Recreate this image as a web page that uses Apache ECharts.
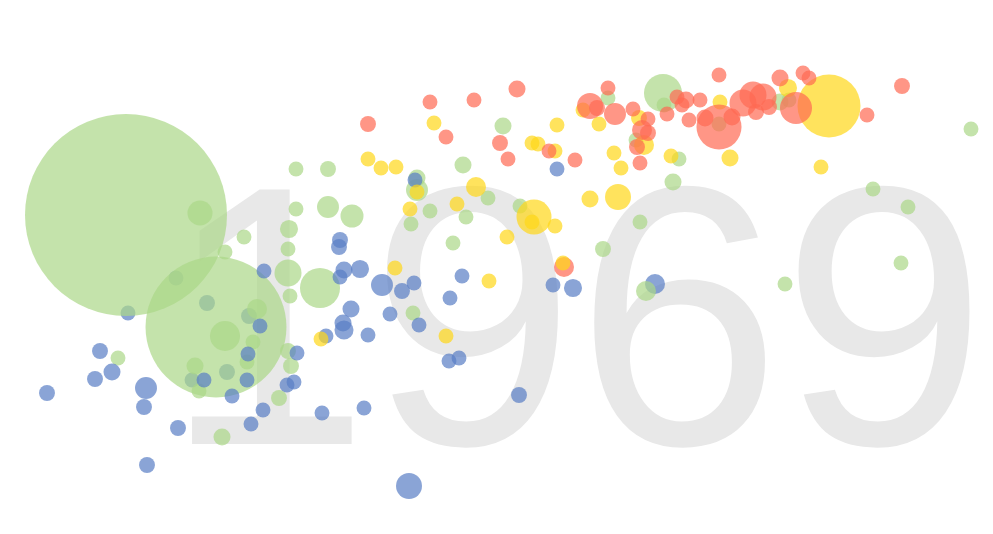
<!DOCTYPE html>
<html>
<head>
<meta charset="utf-8">
<script src="https://cdn.jsdelivr.net/npm/echarts@6/dist/echarts.min.js"></script>
<style>
  html, body { margin: 0; padding: 0; background: #ffffff; }
  #chart { width: 993px; height: 534px; }
</style>
</head>
<body>
<div id="chart"></div>
<script>
// Year shown as the large background label
const year = '1969';
// Region names (index used as the 4th value of each country)
const regions = ['Africa', 'Asia', 'Americas', 'Europe'];
const regionColors = ['#587ec4', '#abd787', '#ffd718', '#ff6952'];

// [income index, life expectancy, population (millions), region]
// listed in drawing order
const countries = [
  [12.8,48.7,4.3,0],[17.6,52.2,4.3,0],[20.7,49.7,4.9,0],[22.7,42.8,4.9,0],[19.2,42.0,4.3,0],[24.9,48.4,4.9,0],[65.5,51.6,7.7,0],
  [12.6,58.5,787,1],[21.6,47.3,383,1],
  [20.0,58.7,12.1,1],[22.5,46.4,17.4,1],[25.7,49.1,7.7,1],[25.3,45.8,4.3,1],[19.5,43.4,5.6,1],[19.9,40.9,4.3,1],
  [24.7,43.8,4.3,1],[28.8,44.9,4.9,1],[29.1,43.4,4.9,1],[27.9,40.2,4.9,1],[24.4,56.3,4.3,1],[22.5,54.8,4.3,1],
  [28.8,55.1,4.3,1],[28.8,52.7,14.1,1],[29.0,50.4,4.3,1],[32.0,51.2,30.9,1],[29.6,59.1,4.3,1],[28.9,57.1,6.3,1],
  [29.6,63.1,4.3,1],[32.8,63.1,4.9,1],[32.8,59.3,9.3,1],[35.2,58.4,10.2,1],[11.8,44.2,4.3,1],[22.2,36.3,5.6,1],
  [41.3,48.7,4.3,1],[45.3,55.7,4.3,1],[41.7,61.0,9.3,1],[41.7,62.2,5.6,1],[41.1,57.6,4.3,1],[43.0,58.9,4.3,1],
  [46.6,58.3,4.3,1],[48.8,60.2,4.3,1],[46.3,63.5,5.6,1],[50.3,67.4,5.6,1],[52.0,59.4,4.3,1],[60.3,55.1,4.9,1],
  [64.0,57.8,4.3,1],[64.6,50.9,7.7,1],[67.3,61.8,5.6,1],[67.9,64.1,4.3,1],[63.6,66.0,4.3,1],[60.8,70.2,4.3,1],
  [71.9,67.6,4.3,1],[66.3,70.7,27.9,1],[66.4,69.5,4.3,1],[78.0,69.8,5.6,1],[78.9,70.0,4.3,1],[78.5,51.6,4.3,1],
  [87.3,61.1,4.3,1],[90.8,59.3,4.3,1],[90.1,53.7,4.3,1],[97.1,67.1,4.3,1],
  [41.5,62.0,4.3,0],[26.0,47.4,4.3,0],[24.8,44.6,4.3,0],[20.4,42.0,4.3,0],[24.7,42.0,4.3,0],[23.2,40.4,4.3,0],
  [4.7,40.7,4.9,0],[10.0,44.9,4.9,0],[9.5,42.1,4.9,0],[11.2,42.8,5.6,0],[14.6,41.2,9.3,0],[14.4,39.3,4.9,0],
  [17.8,37.2,4.9,0],[14.7,33.5,4.9,0],[25.1,37.6,4.3,0],[26.3,39.0,4.3,0],[26.4,52.9,4.3,0],[29.4,41.8,4.3,0],
  [28.7,41.5,4.3,0],[29.7,44.7,4.3,0],[32.6,46.4,4.3,0],[32.2,38.7,4.3,0],[36.4,39.2,4.3,0],[34.3,47.7,5.6,0],
  [34.4,47.0,7.0,0],[35.1,49.1,5.6,0],[34.0,56.0,4.9,0],[33.9,55.3,4.9,0],[34.4,53.0,5.6,0],[34.0,52.3,4.3,0],
  [36.0,53.1,6.3,0],[38.2,51.5,9.3,0],[40.2,50.9,4.9,0],[41.4,51.7,4.3,0],[36.8,46.5,4.3,0],[39.0,48.6,4.3,0],
  [41.9,47.5,4.3,0],[46.2,52.4,4.3,0],[45.0,50.2,4.3,0],[44.9,43.9,4.3,0],[45.9,44.2,4.3,0],[40.9,31.4,13.0,0],
  [51.9,40.5,4.9,0],[55.3,51.5,4.3,0],[57.3,51.2,6.3,0],[55.7,63.1,4.3,0],
  [56.4,53.3,7.7,3],
  [43.4,67.7,4.3,2],[36.8,64.1,4.3,2],[38.1,63.2,4.3,2],[39.6,63.3,4.3,2],[41.7,60.8,4.3,2],[47.6,61.3,7.7,2],
  [45.7,59.6,4.3,2],[41.0,59.1,4.3,2],[39.5,53.2,4.3,2],[32.1,46.1,4.3,2],[44.6,46.4,4.3,2],[48.9,51.9,4.3,2],
  [50.7,56.3,4.3,2],[53.4,58.3,23.6,2],[53.2,57.8,4.3,2],[55.5,57.4,4.3,2],[55.7,67.5,4.3,2],[53.2,65.7,4.3,2],
  [53.8,65.6,4.3,2],[55.5,64.9,4.3,2],[56.3,53.7,4.3,2],[58.3,69.0,4.3,2],[59.9,67.6,4.3,2],[61.4,64.7,4.3,2],
  [62.1,63.2,4.3,2],[59.0,60.1,5.6,2],[61.8,60.3,13.0,2],[63.9,68.2,4.9,2],[64.4,65.5,7.7,2],[67.1,64.4,4.3,2],
  [72.0,69.8,4.3,2],[73.0,64.2,5.6,2],[78.8,71.2,6.3,2],[82.1,63.3,4.3,2],[82.9,69.4,76.6,2],
  [43.0,69.8,4.3,3],[47.4,70.0,4.3,3],[36.8,67.6,4.9,3],[44.6,66.3,4.3,3],[51.7,71.1,5.6,3],[50.0,65.7,4.9,3],
  [50.8,64.1,4.3,3],[54.9,64.9,4.3,3],[57.5,64.0,4.3,3],[59.0,69.4,13.0,3],[59.7,69.2,4.9,3],[60.8,71.2,4.3,3],
  [61.5,68.6,9.3,3],[63.3,69.1,4.3,3],[64.8,68.1,4.3,3],[64.2,67.0,7.7,3],[64.8,66.7,4.9,3],[63.7,65.3,4.9,3],
  [64.0,63.7,4.3,3],[67.7,70.3,4.3,3],[68.6,70.0,5.6,3],[68.2,69.5,4.3,3],[66.7,68.6,4.3,3],[70.0,70.0,4.3,3],
  [68.9,68.0,4.3,3],[71.9,72.5,4.3,3],[71.9,67.3,39.1,3],[70.5,68.2,5.6,3],[73.2,68.3,5.6,3],[74.3,69.7,14.1,3],
  [75.3,70.5,14.1,3],[76.3,70.3,14.1,3],[75.6,68.8,4.9,3],[76.9,69.3,4.9,3],[78.0,72.2,5.6,3],[80.3,72.7,4.3,3],
  [80.9,72.2,4.3,3],[79.6,69.2,19.8,3],[86.7,68.5,4.3,3],[90.2,71.4,4.9,3]
];

const chart = echarts.init(document.getElementById('chart'), null, { renderer: 'canvas' });
chart.setOption({
  animation: false,
  backgroundColor: '#ffffff',
  graphic: [{
    type: 'text',
    z: 0,
    silent: true,
    x: 987,
    y: 342,
    style: {
      text: year,
      align: 'right',
      verticalAlign: 'middle',
      fill: '#e8e8e8',
      font: 'normal 370px "Liberation Sans", Arial, Helvetica, sans-serif'
    }
  }],
  grid: { left: 0, right: 0, top: 0, bottom: 0 },
  xAxis: { type: 'value', min: 0, max: 99.3, show: false, splitLine: { show: false } },
  yAxis: { type: 'value', min: 26.6, max: 80, show: false, splitLine: { show: false } },
  series: [{
    type: 'scatter',
    z: 2,
    data: countries,
    symbolSize: function (v) { return Math.sqrt(v[2]) * 7.2; },
    itemStyle: {
      opacity: 0.7,
      color: function (p) { return regionColors[p.data[3]]; }
    }
  }]
});
</script>
</body>
</html>
